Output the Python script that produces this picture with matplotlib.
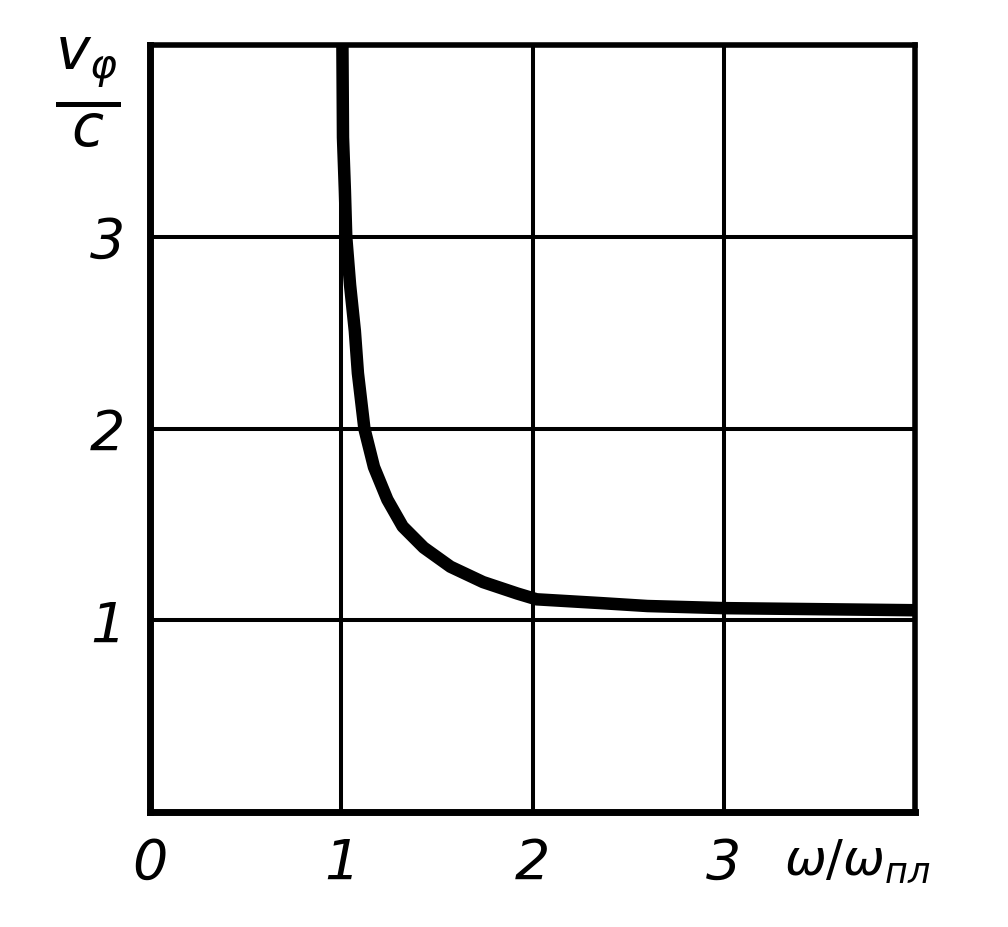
import matplotlib.pyplot as plt
from matplotlib import rcParams

rcParams['font.family'] = 'DejaVu Sans'
rcParams['mathtext.fontset'] = 'dejavusans'

# curve v_ph / c versus omega / omega_pl
w = [1.005, 1.008, 1.018, 1.025, 1.045, 1.07, 1.086, 1.12, 1.17, 1.24, 1.32, 1.43, 1.57,
     1.74, 1.92, 2.02, 2.19, 2.36, 2.6, 3.0, 4.0]
v = [4.0, 3.52, 3.24, 3.0, 2.75, 2.51, 2.29, 2.0, 1.80, 1.63, 1.49, 1.38, 1.28,
     1.20, 1.14, 1.11, 1.10, 1.09, 1.075, 1.064, 1.053]

xticks = [0, 1, 2, 3]
yticks = [1, 2, 3]

fig = plt.figure(figsize=(10.08, 9.27), dpi=100)
ax = fig.add_axes([0.149, 0.124, 0.759, 0.827])
ax.set_xlim(0, 4)
ax.set_ylim(0, 4)

for xv in [1, 2, 3]:
    ax.axvline(xv, color='black', lw=2.9, zorder=1)
for yv in [1, 2, 3]:
    ax.axhline(yv, color='black', lw=2.9, zorder=1)

ax.plot(w, v, color='black', lw=9, solid_capstyle='butt',
        solid_joinstyle='round', zorder=3)

for side, lw in [('left', 5), ('bottom', 5), ('top', 4), ('right', 4)]:
    ax.spines[side].set_linewidth(lw)

ax.set_xticks(xticks)
ax.set_yticks(yticks)
ax.tick_params(length=0, labelsize=40, pad=18)
for lab in ax.get_xticklabels() + ax.get_yticklabels():
    lab.set_fontstyle('italic')

fig.text(0.087, 0.900, r'$\frac{v_{\varphi}}{c}$', fontsize=60,
         ha='center', va='center')
fig.text(0.851, 0.070, r'$\omega/\omega_{\mathit{пл}}$', fontsize=36,
         ha='center', va='center')

fig.savefig('out.png', dpi=100)
